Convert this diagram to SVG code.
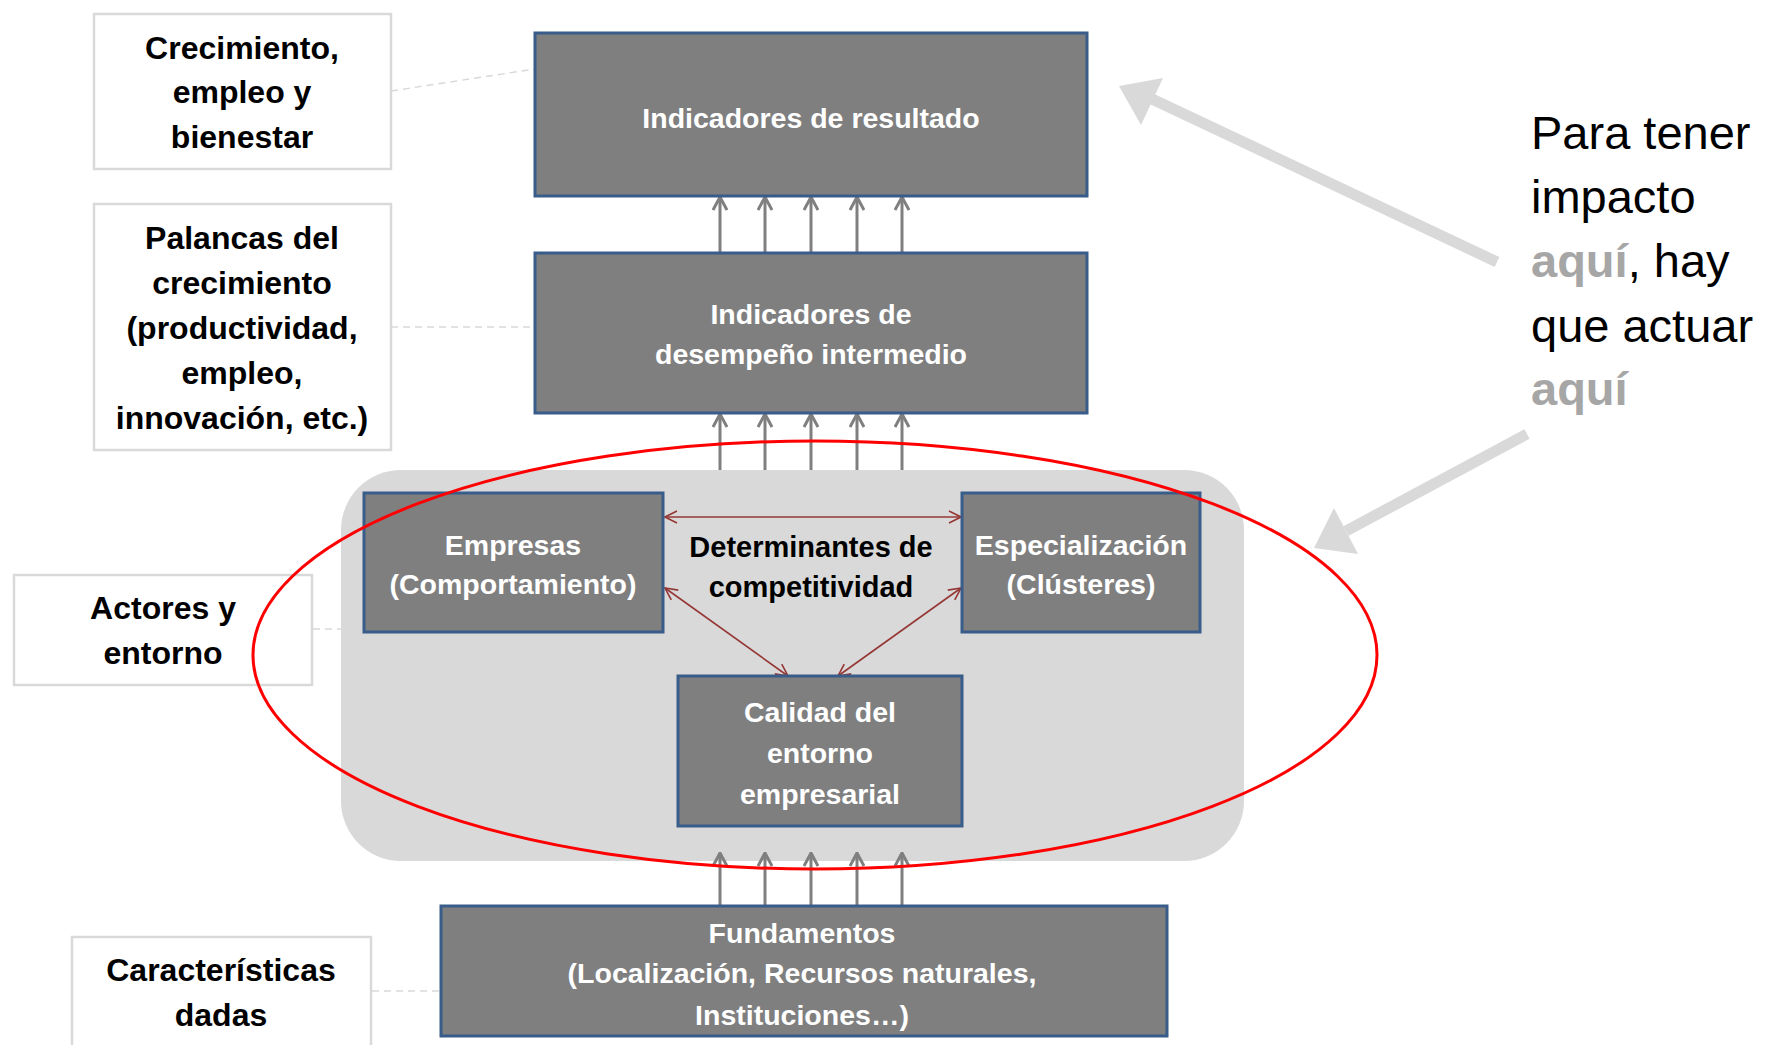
<svg xmlns="http://www.w3.org/2000/svg" width="1769" height="1045" viewBox="0 0 1769 1045">
<style>
.lbl{fill:#ffffff;stroke:#d9d9d9;stroke-width:2.5}
.lt{font-family:"Liberation Sans",Arial,sans-serif;font-weight:bold;font-size:32px;fill:#000000;text-anchor:middle}
.box{fill:#7f7f7f;stroke:#385d8a;stroke-width:3}
.bt{font-family:"Liberation Sans",Arial,sans-serif;font-weight:bold;font-size:28.5px;fill:#ffffff;text-anchor:middle}
.dash{stroke:#d9d9d9;stroke-width:1.5;stroke-dasharray:7 5;fill:none}
.up{stroke:#7f7f7f;stroke-width:3;fill:none;marker-end:url(#ga)}
.rd{stroke:#953735;stroke-width:1.6;fill:none;marker-start:url(#ra);marker-end:url(#ra)}
.big{stroke:#d9d9d9;stroke-width:11;fill:none}
.rt{font-family:"Liberation Sans",Arial,sans-serif;font-size:47px;fill:#000000}
.aq{font-weight:bold;fill:#a6a6a6}
</style>
<defs>
<marker id="ga" viewBox="0 0 16 16" refX="15" refY="8" markerWidth="16" markerHeight="16" markerUnits="userSpaceOnUse" orient="auto">
<path d="M2,1 L15,8 L2,15" fill="none" stroke="#7f7f7f" stroke-width="3"/>
</marker>
<marker id="ra" viewBox="0 0 14 14" refX="13" refY="7" markerWidth="14" markerHeight="14" markerUnits="userSpaceOnUse" orient="auto-start-reverse">
<path d="M1,1 L13,7 L1,13" fill="none" stroke="#953735" stroke-width="1.6"/>
</marker>
</defs>
<rect width="1769" height="1045" fill="#ffffff"/>

<g id="area">
<rect x="341" y="470" width="903" height="391" rx="60" ry="60" fill="#d9d9d9"/>
</g>

<g id="connectors">
<line class="dash" x1="391" y1="91" x2="535" y2="69"/>
<line class="dash" x1="391" y1="327" x2="535" y2="327"/>
<line class="dash" x1="313" y1="629" x2="341" y2="629"/>
<line class="dash" x1="372" y1="991" x2="441" y2="991"/>
<line class="up" x1="720" y1="253" x2="720" y2="197"/>
<line class="up" x1="765" y1="253" x2="765" y2="197"/>
<line class="up" x1="811" y1="253" x2="811" y2="197"/>
<line class="up" x1="857" y1="253" x2="857" y2="197"/>
<line class="up" x1="902" y1="253" x2="902" y2="197"/>
<line class="up" x1="720" y1="470" x2="720" y2="414"/>
<line class="up" x1="765" y1="470" x2="765" y2="414"/>
<line class="up" x1="811" y1="470" x2="811" y2="414"/>
<line class="up" x1="857" y1="470" x2="857" y2="414"/>
<line class="up" x1="902" y1="470" x2="902" y2="414"/>
<line class="up" x1="720" y1="906" x2="720" y2="853"/>
<line class="up" x1="765" y1="906" x2="765" y2="853"/>
<line class="up" x1="811" y1="906" x2="811" y2="853"/>
<line class="up" x1="857" y1="906" x2="857" y2="853"/>
<line class="up" x1="902" y1="906" x2="902" y2="853"/>
<line class="rd" x1="665" y1="517" x2="961" y2="517"/>
<line class="rd" x1="665" y1="588" x2="788" y2="676"/>
<line class="rd" x1="961" y1="588" x2="838" y2="676"/>
</g>

<g id="n-crecimiento">
<rect class="lbl" x="94" y="14" width="297" height="155"/>
<text class="lt" x="242" y="59">Crecimiento,</text>
<text class="lt" x="242" y="103">empleo y</text>
<text class="lt" x="242" y="148">bienestar</text>
</g>
<g id="n-palancas">
<rect class="lbl" x="94" y="204" width="297" height="246"/>
<text class="lt" x="242" y="249">Palancas del</text>
<text class="lt" x="242" y="294">crecimiento</text>
<text class="lt" x="242" y="339">(productividad,</text>
<text class="lt" x="242" y="384">empleo,</text>
<text class="lt" x="242" y="429">innovación, etc.)</text>
</g>
<g id="n-actores">
<rect class="lbl" x="14" y="575" width="298" height="110"/>
<text class="lt" x="163" y="619">Actores y</text>
<text class="lt" x="163" y="664">entorno</text>
</g>
<g id="n-caracteristicas">
<rect class="lbl" x="72" y="937" width="299" height="130"/>
<text class="lt" x="221" y="981">Características</text>
<text class="lt" x="221" y="1026">dadas</text>
</g>

<g id="n-resultado">
<rect class="box" x="535" y="33" width="552" height="163"/>
<text class="bt" x="811" y="128">Indicadores de resultado</text>
</g>
<g id="n-desempeno">
<rect class="box" x="535" y="253" width="552" height="160"/>
<text class="bt" x="811" y="324">Indicadores de</text>
<text class="bt" x="811" y="364">desempeño intermedio</text>
</g>
<g id="n-empresas">
<rect class="box" x="364" y="493" width="299" height="139"/>
<text class="bt" x="513" y="555">Empresas</text>
<text class="bt" x="513" y="594">(Comportamiento)</text>
</g>
<g id="n-determinantes">
<text class="lt" style="font-size:29px" x="811" y="557">Determinantes de</text>
<text class="lt" style="font-size:29px" x="811" y="597">competitividad</text>
</g>
<g id="n-especializacion">
<rect class="box" x="962" y="493" width="238" height="139"/>
<text class="bt" x="1081" y="555">Especialización</text>
<text class="bt" x="1081" y="594">(Clústeres)</text>
</g>
<g id="n-calidad">
<rect class="box" x="678" y="676" width="284" height="150"/>
<text class="bt" x="820" y="722">Calidad del</text>
<text class="bt" x="820" y="763">entorno</text>
<text class="bt" x="820" y="804">empresarial</text>
</g>
<g id="n-fundamentos">
<rect class="box" x="441" y="906" width="726" height="130"/>
<text class="bt" x="802" y="943">Fundamentos</text>
<text class="bt" x="802" y="983">(Localización, Recursos naturales,</text>
<text class="bt" x="802" y="1025">Instituciones…)</text>
</g>

<g id="highlight">
<ellipse cx="815" cy="655" rx="562" ry="214" fill="none" stroke="#ff0000" stroke-width="3"/>
</g>

<g id="callout-arrows">
<line class="big" x1="1497" y1="262" x2="1152" y2="99"/>
<polygon points="1119,86 1163,78 1141,125" fill="#d9d9d9"/>
<line class="big" x1="1527" y1="434" x2="1346" y2="531"/>
<polygon points="1314,548 1358,554 1334,508" fill="#d9d9d9"/>
</g>

<g id="n-nota">
<text class="rt" x="1531" y="149">Para tener</text>
<text class="rt" x="1531" y="213">impacto</text>
<text class="rt" x="1531" y="277"><tspan class="aq">aquí</tspan>, hay</text>
<text class="rt" x="1531" y="342">que actuar</text>
<text class="rt" x="1531" y="405"><tspan class="aq">aquí</tspan></text>
</g>
</svg>
